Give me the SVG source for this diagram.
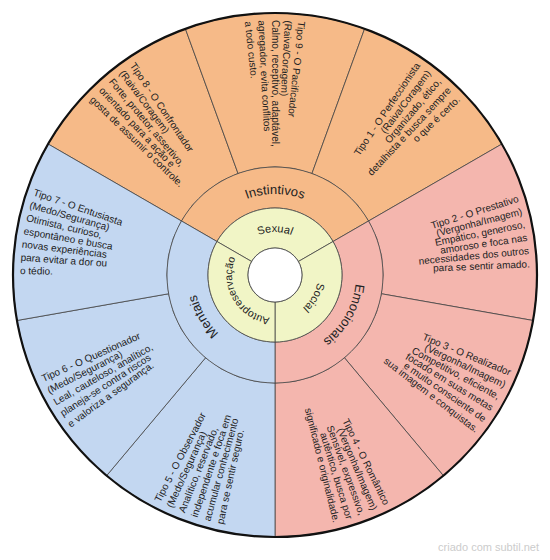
<svg xmlns="http://www.w3.org/2000/svg" width="550" height="560" viewBox="0 0 550 560">
<style>
.t{font-family:"Liberation Sans",Arial,sans-serif;font-size:10px;fill:#222}
.l{text-anchor:start}
.r{text-anchor:end}
.sec{stroke:#444;stroke-width:0.8}
.o{fill:#F6BA88}
.p{fill:#F4B6AE}
.b{fill:#C3D7F1}
.y{fill:#F1F5C6}
.tri{font-family:"Liberation Sans",Arial,sans-serif;font-size:13px;fill:#222;text-anchor:middle}
.inn{font-family:"Liberation Sans",Arial,sans-serif;font-size:11px;fill:#222;text-anchor:middle}
</style>
<defs>
<path id="pI" d="M204.85,234.5 A81,81 0 0 1 345.15,234.5"/>
<path id="pE" d="M345.15,234.5 A81,81 0 0 1 275,356"/>
<path id="pM" d="M275,356 A81,81 0 0 1 204.85,234.5"/>
<path id="pS" d="M237.76,253.5 A43,43 0 0 1 312.24,253.5"/>
<path id="pO" d="M312.24,253.5 A43,43 0 0 1 275,318"/>
<path id="pA" d="M275,318 A43,43 0 0 1 237.76,253.5"/>
</defs>

<g id="tipo8">
<path class="sec o" d="M48.11,144 A262,262 0 0 1 185.40,28.80 L238.06,173.51 A108,108 0 0 0 181.47,221 Z"/>
<g transform="translate(275,275)">
<text class="t l" transform="rotate(56)" x="-255" y="3.5">Tipo 8 - O Confrontador</text>
<text class="t l" transform="rotate(53)" x="-255" y="3.5">(Raiva/Coragem)</text>
<text class="t l" transform="rotate(50)" x="-255" y="3.5">Forte, protetor, assertivo,</text>
<text class="t l" transform="rotate(47)" x="-255" y="3.5">orientado para a ação e</text>
<text class="t l" transform="rotate(44)" x="-255" y="3.5">gosta de assumir o controle.</text>
</g>
</g>

<g id="tipo9">
<path class="sec o" d="M185.40,28.80 A262,262 0 0 1 364.60,28.80 L311.94,173.51 A108,108 0 0 0 238.06,173.51 Z"/>
<g transform="translate(275,275)">
<text class="t l" transform="rotate(96)" x="-255" y="3.5">Tipo 9 - O Pacificador</text>
<text class="t l" transform="rotate(93)" x="-255" y="3.5">(Raiva/Coragem)</text>
<text class="t l" transform="rotate(90)" x="-255" y="3.5">Calmo, receptivo, adaptável,</text>
<text class="t l" transform="rotate(87)" x="-255" y="3.5">agregador, evita conflitos</text>
<text class="t l" transform="rotate(84)" x="-255" y="3.5">a todo custo.</text>
</g>
</g>

<g id="tipo1">
<path class="sec o" d="M364.60,28.80 A262,262 0 0 1 501.89,144 L368.53,221 A108,108 0 0 0 311.94,173.51 Z"/>
<g transform="translate(275,275)">
<text class="t r" transform="rotate(-56)" x="255" y="3.5">Tipo 1 - O Perfeccionista</text>
<text class="t r" transform="rotate(-53)" x="255" y="3.5">(Raiva/Coragem)</text>
<text class="t r" transform="rotate(-50)" x="255" y="3.5">Organizado, ético,</text>
<text class="t r" transform="rotate(-47)" x="255" y="3.5">detalhista e busca sempre</text>
<text class="t r" transform="rotate(-44)" x="255" y="3.5">o que é certo.</text>
</g>
</g>

<g id="tipo2">
<path class="sec p" d="M501.89,144 A262,262 0 0 1 533.02,320.49 L381.36,293.75 A108,108 0 0 0 368.53,221 Z"/>
<g transform="translate(275,275)">
<text class="t r" transform="rotate(-17.5)" x="255" y="3.5">Tipo 2 - O Prestativo</text>
<text class="t r" transform="rotate(-14.5)" x="255" y="3.5">(Vergonha/Imagem)</text>
<text class="t r" transform="rotate(-11.5)" x="255" y="3.5">Empático, generoso,</text>
<text class="t r" transform="rotate(-8.5)" x="255" y="3.5">amoroso e foca nas</text>
<text class="t r" transform="rotate(-5.5)" x="255" y="3.5">necessidades dos outros</text>
<text class="t r" transform="rotate(-2.5)" x="255" y="3.5">para se sentir amado.</text>
</g>
</g>

<g id="tipo3">
<path class="sec p" d="M533.02,320.49 A262,262 0 0 1 443.41,475.70 L344.42,357.73 A108,108 0 0 0 381.36,293.75 Z"/>
<g transform="translate(275,275)">
<text class="t r" transform="rotate(22.5)" x="255" y="3.5">Tipo 3 - O Realizador</text>
<text class="t r" transform="rotate(25.5)" x="255" y="3.5">(Vergonha/Imagem)</text>
<text class="t r" transform="rotate(28.5)" x="255" y="3.5">Competitivo, eficiente,</text>
<text class="t r" transform="rotate(31.5)" x="255" y="3.5">focado em suas metas</text>
<text class="t r" transform="rotate(34.5)" x="255" y="3.5">e muito consciente de</text>
<text class="t r" transform="rotate(37.5)" x="255" y="3.5">sua imagem e conquistas.</text>
</g>
</g>

<g id="tipo4">
<path class="sec p" d="M443.41,475.70 A262,262 0 0 1 275,537 L275,383 A108,108 0 0 0 344.42,357.73 Z"/>
<g transform="translate(275,275)">
<text class="t r" transform="rotate(64)" x="255" y="3.5">Tipo 4 - O Romântico</text>
<text class="t r" transform="rotate(67)" x="255" y="3.5">(Vergonha/Imagem)</text>
<text class="t r" transform="rotate(70)" x="255" y="3.5">Sensível, expressivo,</text>
<text class="t r" transform="rotate(73)" x="255" y="3.5">autêntico, busca por</text>
<text class="t r" transform="rotate(76)" x="255" y="3.5">significado e originalidade.</text>
</g>
</g>

<g id="tipo5">
<path class="sec b" d="M275,537 A262,262 0 0 1 106.59,475.70 L205.58,357.73 A108,108 0 0 0 275,383 Z"/>
<g transform="translate(275,275)">
<text class="t l" transform="rotate(-62.5)" x="-255" y="3.5">Tipo 5 - O Observador</text>
<text class="t l" transform="rotate(-65.5)" x="-255" y="3.5">(Medo/Segurança)</text>
<text class="t l" transform="rotate(-68.5)" x="-255" y="3.5">Analítico, reservado,</text>
<text class="t l" transform="rotate(-71.5)" x="-255" y="3.5">independente e foca em</text>
<text class="t l" transform="rotate(-74.5)" x="-255" y="3.5">acumular conhecimento</text>
<text class="t l" transform="rotate(-77.5)" x="-255" y="3.5">para se sentir seguro.</text>
</g>
</g>

<g id="tipo6">
<path class="sec b" d="M106.59,475.70 A262,262 0 0 1 16.98,320.49 L168.64,293.75 A108,108 0 0 0 205.58,357.73 Z"/>
<g transform="translate(275,275)">
<text class="t l" transform="rotate(-24)" x="-255" y="3.5">Tipo 6 - O Questionador</text>
<text class="t l" transform="rotate(-27)" x="-255" y="3.5">(Medo/Segurança)</text>
<text class="t l" transform="rotate(-30)" x="-255" y="3.5">Leal, cauteloso, analítico,</text>
<text class="t l" transform="rotate(-33)" x="-255" y="3.5">planeja-se contra riscos</text>
<text class="t l" transform="rotate(-36)" x="-255" y="3.5">e valoriza a segurança.</text>
</g>
</g>

<g id="tipo7">
<path class="sec b" d="M16.98,320.49 A262,262 0 0 1 48.11,144 L181.47,221 A108,108 0 0 0 168.64,293.75 Z"/>
<g transform="translate(275,275)">
<text class="t l" transform="rotate(19)" x="-255" y="3.5">Tipo 7 - O Entusiasta</text>
<text class="t l" transform="rotate(16)" x="-255" y="3.5">(Medo/Segurança)</text>
<text class="t l" transform="rotate(13)" x="-255" y="3.5">Otimista, curioso,</text>
<text class="t l" transform="rotate(10)" x="-255" y="3.5">espontâneo e busca</text>
<text class="t l" transform="rotate(7)" x="-255" y="3.5">novas experiências</text>
<text class="t l" transform="rotate(4)" x="-255" y="3.5">para evitar a dor ou</text>
<text class="t l" transform="rotate(1)" x="-255" y="3.5">o tédio.</text>
</g>
</g>

<g id="instintivos">
<path class="sec o" d="M181.47,221 A108,108 0 0 1 368.53,221 L333.02,241.5 A67,67 0 0 0 216.98,241.5 Z"/>
<text class="tri"><textPath href="#pI" startOffset="50%">Instintivos</textPath></text>
</g>
<g id="emocionais">
<path class="sec p" d="M368.53,221 A108,108 0 0 1 275,383 L275,342 A67,67 0 0 0 333.02,241.5 Z"/>
<text class="tri"><textPath href="#pE" startOffset="50%">Emocionais</textPath></text>
</g>
<g id="mentais">
<path class="sec b" d="M275,383 A108,108 0 0 1 181.47,221 L216.98,241.5 A67,67 0 0 0 275,342 Z"/>
<text class="tri"><textPath href="#pM" startOffset="50%">Mentais</textPath></text>
</g>

<g id="sexual">
<path class="sec y" d="M216.98,241.5 A67,67 0 0 1 333.02,241.5 L298.38,261.5 A27,27 0 0 0 251.62,261.5 Z"/>
<text class="inn"><textPath href="#pS" startOffset="50%">Sexual</textPath></text>
</g>
<g id="social">
<path class="sec y" d="M333.02,241.5 A67,67 0 0 1 275,342 L275,302 A27,27 0 0 0 298.38,261.5 Z"/>
<text class="inn"><textPath href="#pO" startOffset="50%">Social</textPath></text>
</g>
<g id="autopreservacao">
<path class="sec y" d="M275,342 A67,67 0 0 1 216.98,241.5 L251.62,261.5 A27,27 0 0 0 275,302 Z"/>
<text class="inn" style="font-size:10.5px"><textPath href="#pA" startOffset="50%">Autopreservação</textPath></text>
</g>

<g id="centro">
<circle cx="275" cy="275" r="27" fill="#fff" stroke="#444" stroke-width="0.8"/>
</g>
<circle cx="275" cy="275" r="262" fill="none" stroke="#111" stroke-width="2.2"/>

<text x="539" y="551" font-family="Liberation Sans, Arial, sans-serif" font-size="11" fill="#cccccc" text-anchor="end">criado com subtil.net</text>
</svg>
